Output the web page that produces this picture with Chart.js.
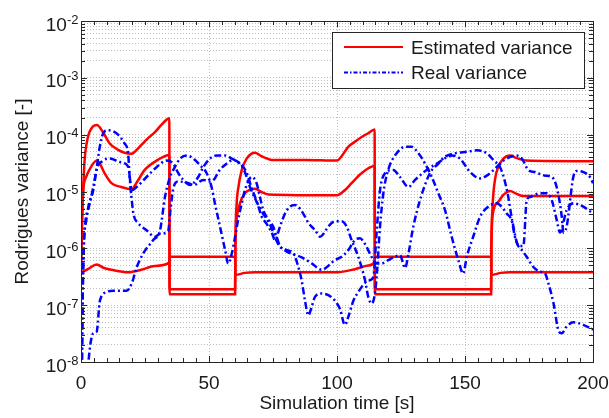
<!DOCTYPE html>
<html>
<head>
<meta charset="utf-8">
<title>Rodrigues variance</title>
<script src="https://cdn.jsdelivr.net/npm/chart.js@4.4.1/dist/chart.umd.min.js"></script>
<style>
  html, body { margin: 0; padding: 0; background: #fff; }
</style>
</head>
<body>
<canvas id="variance-chart" width="609" height="418"></canvas>
<script>
// [time s, variance] pairs
const estimatedA = [[0,5e-7],[0.4,3e-6],[0.8,1e-5],[1.4,3.5e-5],[2.7,9e-5],[4.7,1.4e-4],[6.2,1.48e-4],[8.6,1.1e-4],[11.2,7e-5],[14.5,5.4e-5],[17,4.8e-5],[19.7,4.6e-5],[21,5e-5],[23.6,6.6e-5],[26,8.5e-5],[28.8,1.1e-4],[31.5,1.5e-4],[34.5,1.95e-4],[34.6,1.55e-7],[60.2,1.55e-7],[60.3,1e-6],[60.8,6e-6],[61.5,1.2e-5],[62.8,2.4e-5],[64.7,3.8e-5],[66.5,4.6e-5],[68,4.8e-5],[70,4.3e-5],[72,3.9e-5],[74.5,3.6e-5],[87.5,3.6e-5],[100,3.5e-5],[102,4.3e-5],[104.4,6.1e-5],[107,7.5e-5],[109.6,9.1e-5],[112,1.05e-4],[114.7,1.23e-4],[114.8,1.55e-7],[160.2,1.55e-7],[160.3,1e-6],[160.7,4.7e-6],[161.7,1.6e-5],[163,2.7e-5],[165,3.8e-5],[167.6,4.3e-5],[170,3.9e-5],[174,3.5e-5],[200,3.4e-5]];
const estimatedB = [[0,4e-7],[0.3,2e-6],[0.6,6e-6],[1,1.2e-5],[2,1.8e-5],[3.5,2.5e-5],[5,3.2e-5],[6.2,3.5e-5],[7.5,3e-5],[9.2,2.1e-5],[11.9,1.4e-5],[15.7,1.2e-5],[19.7,1.1e-5],[22,1.5e-5],[24.9,2.4e-5],[30,3.6e-5],[34.5,4.4e-5],[34.6,1.9e-7],[60.2,1.9e-7],[60.3,1e-6],[60.8,3.2e-6],[62.1,6.2e-6],[64,9.3e-6],[66,1.07e-5],[68,1.12e-5],[70.5,9.8e-6],[73.2,8.9e-6],[100,8.6e-6],[103,1.05e-5],[105.7,1.4e-5],[109.6,2.1e-5],[114.7,2.8e-5],[114.8,1.9e-7],[160.2,1.9e-7],[160.3,1e-6],[161,4.4e-6],[163,6.6e-6],[165,8.7e-6],[167.6,1.02e-5],[170,9.2e-6],[172.8,8.3e-6],[200,8.3e-6]];
const estimatedC = [[0,3.7e-7],[3,4.4e-7],[6.1,5.2e-7],[9,4.5e-7],[11.9,4.2e-7],[18.4,3.8e-7],[23.6,4.2e-7],[28.8,4.9e-7],[34.5,5.6e-7],[34.6,7.1e-7],[60.2,7.1e-7],[60.3,3.4e-7],[64,3.7e-7],[68,3.8e-7],[100,3.8e-7],[107,4.3e-7],[112.2,5e-7],[114.7,5.8e-7],[114.8,7.1e-7],[160.2,7.1e-7],[160.3,3.4e-7],[164,3.7e-7],[167.6,3.8e-7],[200,3.8e-7]];

const realA = [[0.3,6e-9],[0.6,1e-7],[1,1e-6],[2,3e-6],[4,8e-6],[6,2.4e-5],[7.3,6e-5],[8.6,1.04e-4],[10.5,1.2e-4],[14.5,1e-4],[17,7e-5],[18.4,4.7e-5],[19,1.8e-5],[19.7,8e-6],[20.5,4e-6],[22.3,2.8e-6],[25.5,2.1e-6],[28.8,1.6e-6],[31,1.8e-6],[34,2e-6],[35,5e-6],[36,1.1e-5],[38,1.5e-5],[42,1.4e-5],[44,1.3e-5],[47.8,1.6e-5],[50.4,1.5e-5],[52.3,1.7e-5],[53.6,2.2e-5],[56.9,3.1e-5],[59.5,3.6e-5],[62,3.1e-5],[64,2.2e-5],[66,1.2e-5],[70,5e-6],[74,2.5e-6],[77,1.2e-6],[80,9e-7],[86,7e-7],[90,5.5e-7],[94,4.2e-7],[99.2,6.2e-7],[101.8,7.1e-7],[104.4,9.3e-7],[107,1.4e-6],[109,1.5e-6],[110.9,1.2e-6],[112.9,8e-7],[114.6,5.8e-7],[115.5,5.4e-7],[117.4,5.4e-7],[120,6.2e-7],[122.7,7.1e-7],[124.6,7.6e-7],[126.6,4.5e-7],[127.9,8e-7],[129.8,2.4e-6],[132.4,7e-6],[136.3,2.1e-5],[139.6,3.1e-5],[142.2,4.1e-5],[146,4.7e-5],[150.7,5e-5],[154.6,5.3e-5],[158.5,4.7e-5],[161,3.6e-5],[164,2.5e-5],[166.5,1e-5],[168.5,3e-6],[171,1.1e-6],[172.8,1.1e-6],[174.1,7e-6],[175.4,8e-6],[179.3,9.3e-6],[181.9,9.3e-6],[183.9,7e-6],[185.8,3.2e-6],[187.1,1.9e-6],[189.7,4.7e-6],[192.3,6.2e-6],[196.2,5.4e-6],[200,4.1e-6]];
const realB = [[0.3,6e-9],[0.9,5.4e-7],[2.9,5.4e-6],[4.8,1.05e-5],[6.1,2.4e-5],[8.7,3.5e-5],[11.3,3.8e-5],[15.2,3.3e-5],[18.5,2.7e-5],[19.8,1.05e-5],[21.7,1.2e-5],[25.6,1.8e-5],[29.6,2.7e-5],[33.5,3.5e-5],[36,3.1e-5],[38,2.1e-5],[40,1.6e-5],[42.6,1.3e-5],[43.9,1.4e-5],[45.8,1.8e-5],[47.8,2.7e-5],[50.4,3.8e-5],[53,4.3e-5],[56.3,4.3e-5],[58.9,3.8e-5],[61.4,3.3e-5],[63.4,2.7e-5],[65,2e-5],[66.5,1.2e-5],[68,8e-6],[69.3,5.4e-6],[70.6,3.6e-6],[72.5,2.7e-6],[74.5,1.9e-6],[75.8,1.4e-6],[77.7,2.4e-6],[79.7,4.1e-6],[81.6,5.4e-6],[83.6,5.8e-6],[85.5,5e-6],[87.5,3.6e-6],[88.8,2.8e-6],[90.1,2.4e-6],[91.4,2.1e-6],[93.4,1.6e-6],[94.7,1.8e-6],[96,2.2e-6],[97.9,2.8e-6],[99.9,3e-6],[101.8,3e-6],[103.8,2.4e-6],[105.7,1.4e-6],[108.3,7.1e-7],[110.9,2.8e-7],[112.2,1.4e-7],[113.5,1.07e-7],[114.6,1.4e-7],[115.5,3.2e-7],[116.8,2.4e-6],[118.1,9.3e-6],[120,2.4e-5],[123.3,4.7e-5],[126.6,6.1e-5],[129.2,6.1e-5],[131.8,4.7e-5],[134.4,3.1e-5],[137,1.8e-5],[139.6,9.3e-6],[142.2,4.7e-6],[144.8,1.6e-6],[147.4,6.2e-7],[149.3,3.6e-7],[150.7,7.1e-7],[153.2,1.6e-6],[155.9,3.6e-6],[159.1,5.4e-6],[162.4,6.2e-6],[164.3,5.4e-6],[166.3,4.1e-6],[168.2,3.1e-6],[169.5,1.6e-6],[170.8,1.1e-6],[172.2,9.3e-7],[174.1,7.1e-7],[176.7,4.7e-7],[179.3,3.9e-7],[181.3,3.6e-7],[182.6,2.4e-7],[184.6,1.07e-7],[186.5,3.6e-8],[187.8,3.2e-8],[189.7,4.2e-8],[192.3,5e-8],[196.2,4.5e-8],[200,3.7e-8]];
const realC = [[2.6,6e-9],[2.9,1e-8],[4.8,3.2e-8],[6.1,3.4e-8],[7.4,1.2e-7],[10,1.7e-7],[12.6,1.8e-7],[17.8,1.8e-7],[19.8,2.4e-7],[21.8,4.7e-7],[24.3,8.1e-7],[28.2,1.4e-6],[30.9,2.1e-6],[32.8,8e-6],[34.8,1.8e-5],[36.7,2.7e-5],[38.7,3.8e-5],[41.3,4.3e-5],[43.9,3.8e-5],[46.5,2.9e-5],[49.1,2.1e-5],[51,1.2e-5],[52.3,6.2e-6],[54.3,2.4e-6],[56.3,9.3e-7],[57.5,5.4e-7],[58.9,8.1e-7],[60.2,1.6e-6],[61.4,3.2e-6],[62.8,6.2e-6],[64,1.05e-5],[66.7,1.8e-5],[68.6,1.4e-5],[69.9,8e-6],[71.2,4.7e-6],[73.2,3.2e-6],[75.1,2.4e-6],[76.4,1.6e-6],[77.7,1.1e-6],[80.4,9.3e-7],[83,8.1e-7],[84.9,4.7e-7],[86.2,2.7e-7],[87.5,1.2e-7],[88.8,6.6e-8],[90.1,9.3e-8],[91.4,1.4e-7],[94,1.6e-7],[96.6,1.5e-7],[99.2,1.2e-7],[101.2,8.5e-8],[103.1,4.5e-8],[104.4,6.2e-8],[106.4,1.2e-7],[108.3,1.7e-7],[110,2.2e-7],[112.2,2.7e-7],[114.2,3.1e-7],[115.5,2e-6],[116.8,1.05e-5],[118.8,2.1e-5],[122,2.4e-5],[124.6,1.8e-5],[127.9,1.2e-5],[130.5,1.6e-5],[135,2.4e-5],[139,3.1e-5],[142.8,4e-5],[145,4.3e-5],[148,3.8e-5],[152,2.2e-5],[155.9,1.7e-5],[158.5,1.9e-5],[162.4,2.7e-5],[165,3.5e-5],[170.2,4.3e-5],[172.2,3.8e-5],[174.7,2.4e-5],[177.3,2.2e-5],[181.3,1.9e-5],[183.9,1.8e-5],[185.8,1.2e-5],[187.8,3.6e-6],[188.4,1.9e-6],[189.7,2.4e-6],[192.3,1.8e-5],[193.5,2.3e-5],[196.2,2.2e-5],[198.8,1.8e-5],[200,1.4e-5]];

// axes
const xTicks = [0, 50, 100, 150, 200];
const yDecades = [-8, -7, -6, -5, -4, -3, -2];
const yMantissas = [1, 2, 3, 4, 5, 6, 7, 8, 9];
const xTitle = 'Simulation time [s]';
const yTitle = 'Rodrigues variance [-]';
const legendLabels = ['Estimated variance', 'Real variance'];

const RED = '#ff0000';
const BLUE = '#0000ff';
const DASHDOT = [7, 3, 2, 3];
const FONT = '"Liberation Sans", Arial, sans-serif';

// all ticks m*10^k between 1e-8 and 1e-2
let yTickValues = [];
yDecades.forEach(e => {
    yMantissas.forEach(m => {
        let v = m * Math.pow(10, e);
        if (e < -2 || m == 1) yTickValues.push(v);
    });
});

function toXY(pairs) {
    return pairs.map(p => ({x: p[0], y: p[1]}));
}

function redSet(pairs, label) {
    return {
        label: label,
        data: toXY(pairs),
        borderColor: RED,
        borderWidth: 2.5,
        cubicInterpolationMode: 'monotone',
        pointRadius: 0,
        order: 1
    };
}

function blueSet(pairs, label) {
    return {
        label: label,
        data: toXY(pairs),
        borderColor: BLUE,
        borderWidth: 2.5,
        borderDash: DASHDOT,
        cubicInterpolationMode: 'monotone',
        pointRadius: 0,
        order: 0
    };
}

// box, inward ticks, tick labels, titles and legend (MATLAB look)
const matlabFrame = {
    id: 'matlabFrame',
    afterDraw(chart) {
        const ctx = chart.ctx;
        const a = chart.chartArea;
        const xs = chart.scales.x;
        const ys = chart.scales.y;
        ctx.save();

        ctx.strokeStyle = '#262626';
        ctx.lineWidth = 1;
        ctx.setLineDash([]);
        ctx.beginPath();
        for (let t = 0; t <= 200; t += 5) {
            let px = Math.round(xs.getPixelForValue(t)) + 0.5;
            let len = (t % 50 == 0) ? 6 : 4;
            ctx.moveTo(px, a.bottom); ctx.lineTo(px, a.bottom - len);
            ctx.moveTo(px, a.top); ctx.lineTo(px, a.top + len);
        }
        yTickValues.forEach(v => {
            let py = Math.round(ys.getPixelForValue(v)) + 0.5;
            let major = Math.abs(Math.log10(v) - Math.round(Math.log10(v))) < 1e-9;
            let len = major ? 6 : 4;
            ctx.moveTo(a.left, py); ctx.lineTo(a.left + len, py);
            ctx.moveTo(a.right, py); ctx.lineTo(a.right - len, py);
        });
        ctx.stroke();
        ctx.strokeRect(Math.round(a.left) + 0.5, Math.round(a.top) + 0.5,
            Math.round(a.right - a.left), Math.round(a.bottom - a.top));

        ctx.fillStyle = '#1a1a1a';
        ctx.textBaseline = 'alphabetic';

        // x tick labels
        ctx.font = '19px ' + FONT;
        ctx.textAlign = 'center';
        xTicks.forEach(t => {
            ctx.fillText(String(t), xs.getPixelForValue(t), a.bottom + 27);
        });

        // y tick labels as 10^k
        yDecades.forEach(e => {
            let py = ys.getPixelForValue(Math.pow(10, e));
            ctx.font = '13px ' + FONT;
            let sup = String(e);
            let wSup = ctx.measureText(sup).width;
            ctx.textAlign = 'right';
            ctx.fillText(sup, 78.5, py + 2.5);
            ctx.font = '19px ' + FONT;
            ctx.fillText('10', 78.5 - wSup, py + 9.5);
        });

        // axis titles
        ctx.font = '19px ' + FONT;
        ctx.textAlign = 'center';
        ctx.fillText(xTitle, (a.left + a.right) / 2, 409);
        ctx.save();
        ctx.translate(28, (a.top + a.bottom) / 2);
        ctx.rotate(-Math.PI / 2);
        ctx.fillText(yTitle, 0, 0);
        ctx.restore();

        // legend
        ctx.fillStyle = '#ffffff';
        ctx.fillRect(332, 32, 253, 57);
        ctx.strokeStyle = '#262626';
        ctx.strokeRect(332.5, 32.5, 252, 56);
        ctx.lineWidth = 2;
        ctx.strokeStyle = RED;
        ctx.beginPath(); ctx.moveTo(344, 47); ctx.lineTo(403, 47); ctx.stroke();
        ctx.strokeStyle = BLUE;
        ctx.setLineDash([4, 2, 1.5, 2]);
        ctx.beginPath(); ctx.moveTo(344, 72.5); ctx.lineTo(403, 72.5); ctx.stroke();
        ctx.setLineDash([]);
        ctx.fillStyle = '#1a1a1a';
        ctx.textAlign = 'left';
        ctx.fillText(legendLabels[0], 411, 53.5);
        ctx.fillText(legendLabels[1], 411, 78.5);

        ctx.restore();
    }
};

const gridColor = '#bdbdbd';

const myChart = new Chart(document.getElementById('variance-chart').getContext('2d'), {
    type: 'line',
    data: {
        datasets: [
            redSet(estimatedA, legendLabels[0]),
            redSet(estimatedB, legendLabels[0]),
            redSet(estimatedC, legendLabels[0]),
            blueSet(realA, legendLabels[1]),
            blueSet(realB, legendLabels[1]),
            blueSet(realC, legendLabels[1])
        ]
    },
    options: {
        responsive: false,
        devicePixelRatio: 1,
        animation: false,
        layout: {
            padding: {left: 81, right: 16, top: 21, bottom: 56}
        },
        plugins: {
            legend: {display: false},
            tooltip: {enabled: false}
        },
        scales: {
            x: {
                type: 'linear',
                min: 0,
                max: 200,
                afterBuildTicks: scale => {
                    scale.ticks = xTicks.map(v => ({value: v}));
                },
                afterFit: scale => { scale.height = 0; },
                ticks: {display: false},
                grid: {color: gridColor, drawTicks: false, lineWidth: 1},
                border: {display: false, dash: [1, 2]}
            },
            y: {
                type: 'logarithmic',
                min: 1e-8,
                max: 1e-2,
                afterBuildTicks: scale => {
                    scale.ticks = yTickValues.map(v => ({value: v}));
                },
                afterFit: scale => { scale.width = 0; },
                ticks: {display: false},
                grid: {color: gridColor, drawTicks: false, lineWidth: 1},
                border: {display: false, dash: [1, 2]}
            }
        }
    },
    plugins: [matlabFrame]
});
</script>
</body>
</html>
